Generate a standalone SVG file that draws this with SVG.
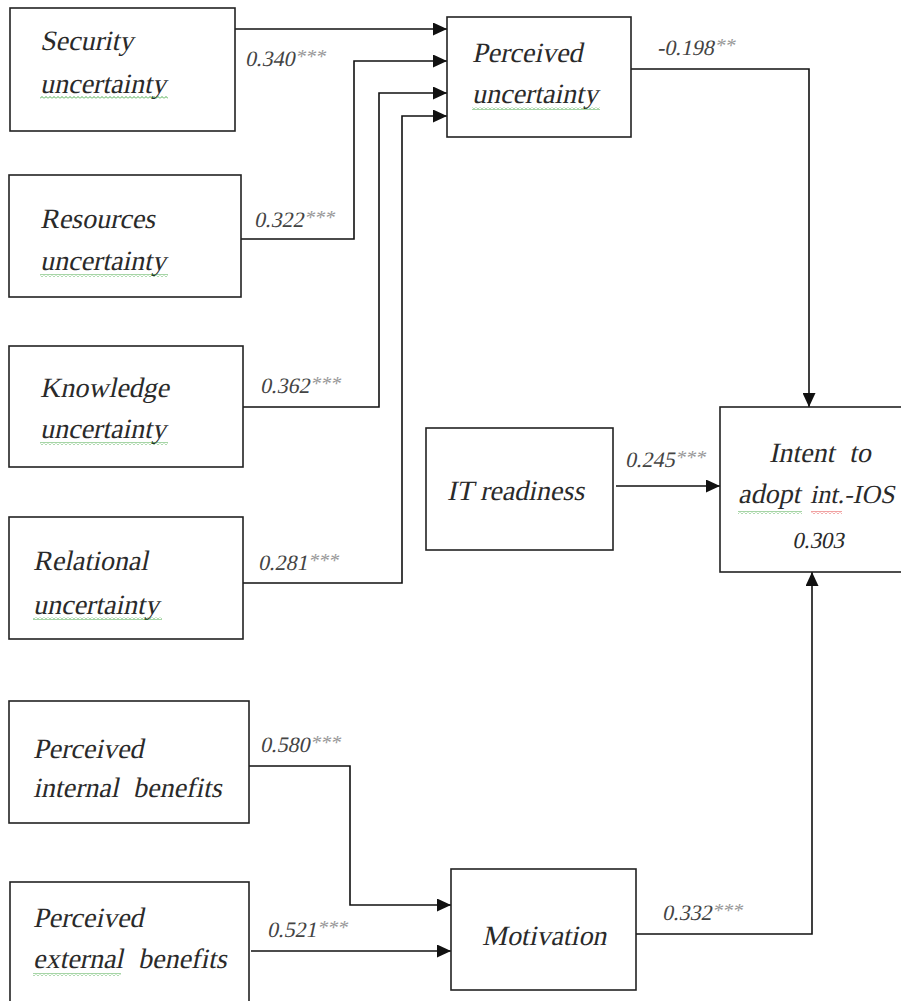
<svg xmlns="http://www.w3.org/2000/svg" width="901" height="1001" viewBox="0 0 901 1001">
<style>
.box{fill:#fff;stroke:#222;stroke-width:1.6}
.t{font-family:'Liberation Serif','Times New Roman',serif;font-size:28px;fill:#2a2a2a}
.lb{font-family:'Liberation Serif','Times New Roman',serif;font-size:22px;fill:#444}
.st{font-size:20px;fill:#999}
.c{fill:none;stroke:#111;stroke-width:1.6}
.wg{fill:url(#wavg)}
.wr{fill:url(#wavr)}
</style>
<defs>
<marker id="ah" markerUnits="userSpaceOnUse" markerWidth="15" markerHeight="13" refX="14" refY="6.5" orient="auto">
<path d="M0,0 L14,6.5 L0,13 z" fill="#111"/>
</marker>
<pattern id="wavg" patternUnits="userSpaceOnUse" width="4" height="3">
<path d="M0,2.5 L2,0.5 L4,2.5" fill="none" stroke="#3aa33a" stroke-width="0.9"/>
</pattern>
<pattern id="wavr" patternUnits="userSpaceOnUse" width="4" height="3">
<path d="M0,2.5 L2,0.5 L4,2.5" fill="none" stroke="#e03030" stroke-width="0.9"/>
</pattern>
</defs>
<rect width="901" height="1001" fill="#fff"/>
<g id="connectors">
<path class="c" d="M235,29 H447" marker-end="url(#ah)"/>
<path class="c" d="M241,239 H354 V61 H447" marker-end="url(#ah)"/>
<path class="c" d="M243,407 H379 V93 H447" marker-end="url(#ah)"/>
<path class="c" d="M243,583 H402 V116 H447" marker-end="url(#ah)"/>
<path class="c" d="M631,69 H809 V407" marker-end="url(#ah)"/>
<path class="c" d="M616,486 H720" marker-end="url(#ah)"/>
<path class="c" d="M249,766 H350 V905 H451" marker-end="url(#ah)"/>
<path class="c" d="M251,951 H451" marker-end="url(#ah)"/>
<path class="c" d="M636,934 H812 V572" marker-end="url(#ah)"/>
<text class="lb" transform="translate(245,66) skewX(-12)">0.340<tspan class="st" dy="-3">***</tspan></text>
<text class="lb" transform="translate(254,227) skewX(-12)">0.322<tspan class="st" dy="-3">***</tspan></text>
<text class="lb" transform="translate(260,393) skewX(-12)">0.362<tspan class="st" dy="-3">***</tspan></text>
<text class="lb" transform="translate(258,570) skewX(-12)">0.281<tspan class="st" dy="-3">***</tspan></text>
<text class="lb" transform="translate(657,55) skewX(-12)">-0.198<tspan class="st" dy="-3">**</tspan></text>
<text class="lb" transform="translate(625,467) skewX(-12)">0.245<tspan class="st" dy="-3">***</tspan></text>
<text class="lb" transform="translate(260,752) skewX(-12)">0.580<tspan class="st" dy="-3">***</tspan></text>
<text class="lb" transform="translate(267,937) skewX(-12)">0.521<tspan class="st" dy="-3">***</tspan></text>
<text class="lb" transform="translate(662,920) skewX(-12)">0.332<tspan class="st" dy="-3">***</tspan></text>
</g>

<g id="security">
<rect class="box" x="10" y="8" width="225" height="123"/>
<text class="t" transform="translate(40,50) skewX(-12)">Security</text>
<text class="t" transform="translate(40,93) skewX(-12)">uncertainty</text>
<rect class="wg" x="40" y="96" width="128" height="3"/>
</g>

<g id="resources">
<rect class="box" x="9" y="175" width="232" height="122"/>
<text class="t" transform="translate(40,228) skewX(-12)">Resources</text>
<text class="t" transform="translate(40,270) skewX(-12)">uncertainty</text>
<rect class="wg" x="40" y="274" width="128" height="3"/>
</g>

<g id="knowledge">
<rect class="box" x="9" y="346" width="234" height="121"/>
<text class="t" transform="translate(40,397) skewX(-12)">Knowledge</text>
<text class="t" transform="translate(40,438) skewX(-12)">uncertainty</text>
<rect class="wg" x="40" y="442" width="128" height="3"/>
</g>

<g id="relational">
<rect class="box" x="9" y="517" width="234" height="122"/>
<text class="t" transform="translate(33,570) skewX(-12)">Relational</text>
<text class="t" transform="translate(33,614) skewX(-12)">uncertainty</text>
<rect class="wg" x="33" y="617" width="129" height="3"/>
</g>

<g id="perceived-uncertainty">
<rect class="box" x="447" y="17" width="184" height="120"/>
<text class="t" transform="translate(472,62) skewX(-12)">Perceived</text>
<text class="t" transform="translate(472,103) skewX(-12)">uncertainty</text>
<rect class="wg" x="472" y="107" width="128" height="3"/>
</g>

<g id="it-readiness">
<rect class="box" x="426" y="428" width="187" height="122"/>
<text class="t" transform="translate(447,500) skewX(-12)">IT readiness</text>
</g>

<g id="intent">
<rect class="box" x="720" y="407" width="190" height="165"/>
<text class="t" transform="translate(769,462) skewX(-12)">Intent</text>
<text class="t" transform="translate(849,462) skewX(-12)">to</text>
<text class="t" transform="translate(738,503) skewX(-12)">adopt</text>
<text class="t" style="font-size:26px" transform="translate(810,503) skewX(-12)">int.-IOS</text>
<rect class="wg" x="738" y="511" width="64" height="3"/>
<rect class="wr" x="811" y="511" width="31" height="3"/>
<text class="t" style="font-size:23px" transform="translate(818,548) skewX(-12)" text-anchor="middle">0.303</text>
</g>

<g id="internal-benefits">
<rect class="box" x="9" y="701" width="240" height="122"/>
<text class="t" transform="translate(33,758) skewX(-12)">Perceived</text>
<text class="t" transform="translate(33,797) skewX(-12)">internal</text>
<text class="t" transform="translate(133,797) skewX(-12)">benefits</text>
</g>

<g id="external-benefits">
<rect class="box" x="10" y="882" width="239" height="125"/>
<text class="t" transform="translate(33,927) skewX(-12)">Perceived</text>
<text class="t" transform="translate(33,968) skewX(-12)">external</text>
<text class="t" transform="translate(138,968) skewX(-12)">benefits</text>
<rect class="wg" x="33" y="973" width="88" height="3"/>
</g>

<g id="motivation">
<rect class="box" x="451" y="869" width="185" height="121"/>
<text class="t" transform="translate(482,945) skewX(-12)">Motivation</text>
</g>
</svg>
